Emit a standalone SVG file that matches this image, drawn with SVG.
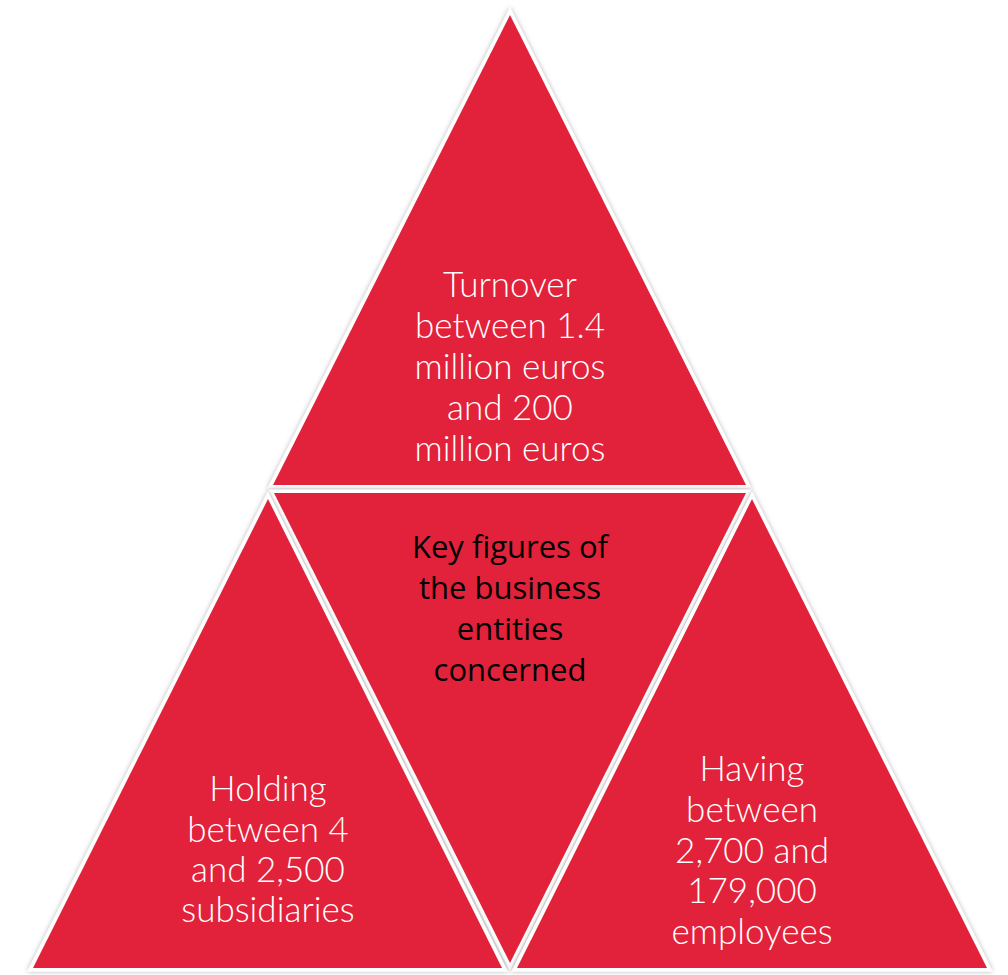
<svg xmlns="http://www.w3.org/2000/svg" width="1008" height="975" viewBox="0 0 1008 975">
<defs>
<filter id="sh" x="-10%" y="-10%" width="120%" height="120%">
<feDropShadow dx="0" dy="0" stdDeviation="2.4" flood-color="#000" flood-opacity="0.3"/>
</filter>
</defs>
<style>
.bg{fill:#fff;stroke:#fff;stroke-width:7;stroke-linejoin:miter;stroke-miterlimit:20;filter:url(#sh)}
.tri{fill:#E2223B}
.w{font-family:Lato,"Open Sans",sans-serif;font-weight:300;font-size:35px;fill:#fff;text-anchor:middle}
.k{font-family:"Open Sans","Noto Sans",sans-serif;font-weight:400;font-size:31px;fill:#000;text-anchor:middle}
</style>
<rect width="1008" height="975" fill="#fff"/>
<g id="top">
<polygon class="bg" points="510,15 273,485 746,485"/>
<polygon class="tri" points="510,15 273,485 746,485"/>
<text class="w" x="510" y="297">Turnover</text>
<text class="w" x="510" y="338">between 1.4</text>
<text class="w" x="510" y="379">million euros</text>
<text class="w" x="510" y="420">and 200</text>
<text class="w" x="510" y="461">million euros</text>
</g>
<g id="center">
<polygon class="bg" points="274,493 746,493 510,963"/>
<polygon class="tri" points="274,493 746,493 510,963"/>
<text class="k" x="510" y="558">Key figures of</text>
<text class="k" x="510" y="599">the business</text>
<text class="k" x="510" y="640">entities</text>
<text class="k" x="510" y="681">concerned</text>
</g>
<g id="left">
<polygon class="bg" points="268,499 33,968 502,968"/>
<polygon class="tri" points="268,499 33,968 502,968"/>
<text class="w" x="268" y="801">Holding</text>
<text class="w" x="268" y="842">between 4</text>
<text class="w" x="268" y="882">and 2,500</text>
<text class="w" x="268" y="922">subsidiaries</text>
</g>
<g id="right">
<polygon class="bg" points="752,499 517,968 987,968"/>
<polygon class="tri" points="752,499 517,968 987,968"/>
<text class="w" x="752" y="781">Having</text>
<text class="w" x="752" y="822">between</text>
<text class="w" x="752" y="863">2,700 and</text>
<text class="w" x="752" y="903">179,000</text>
<text class="w" x="752" y="944">employees</text>
</g>
<g id="connectors"/>
</svg>
